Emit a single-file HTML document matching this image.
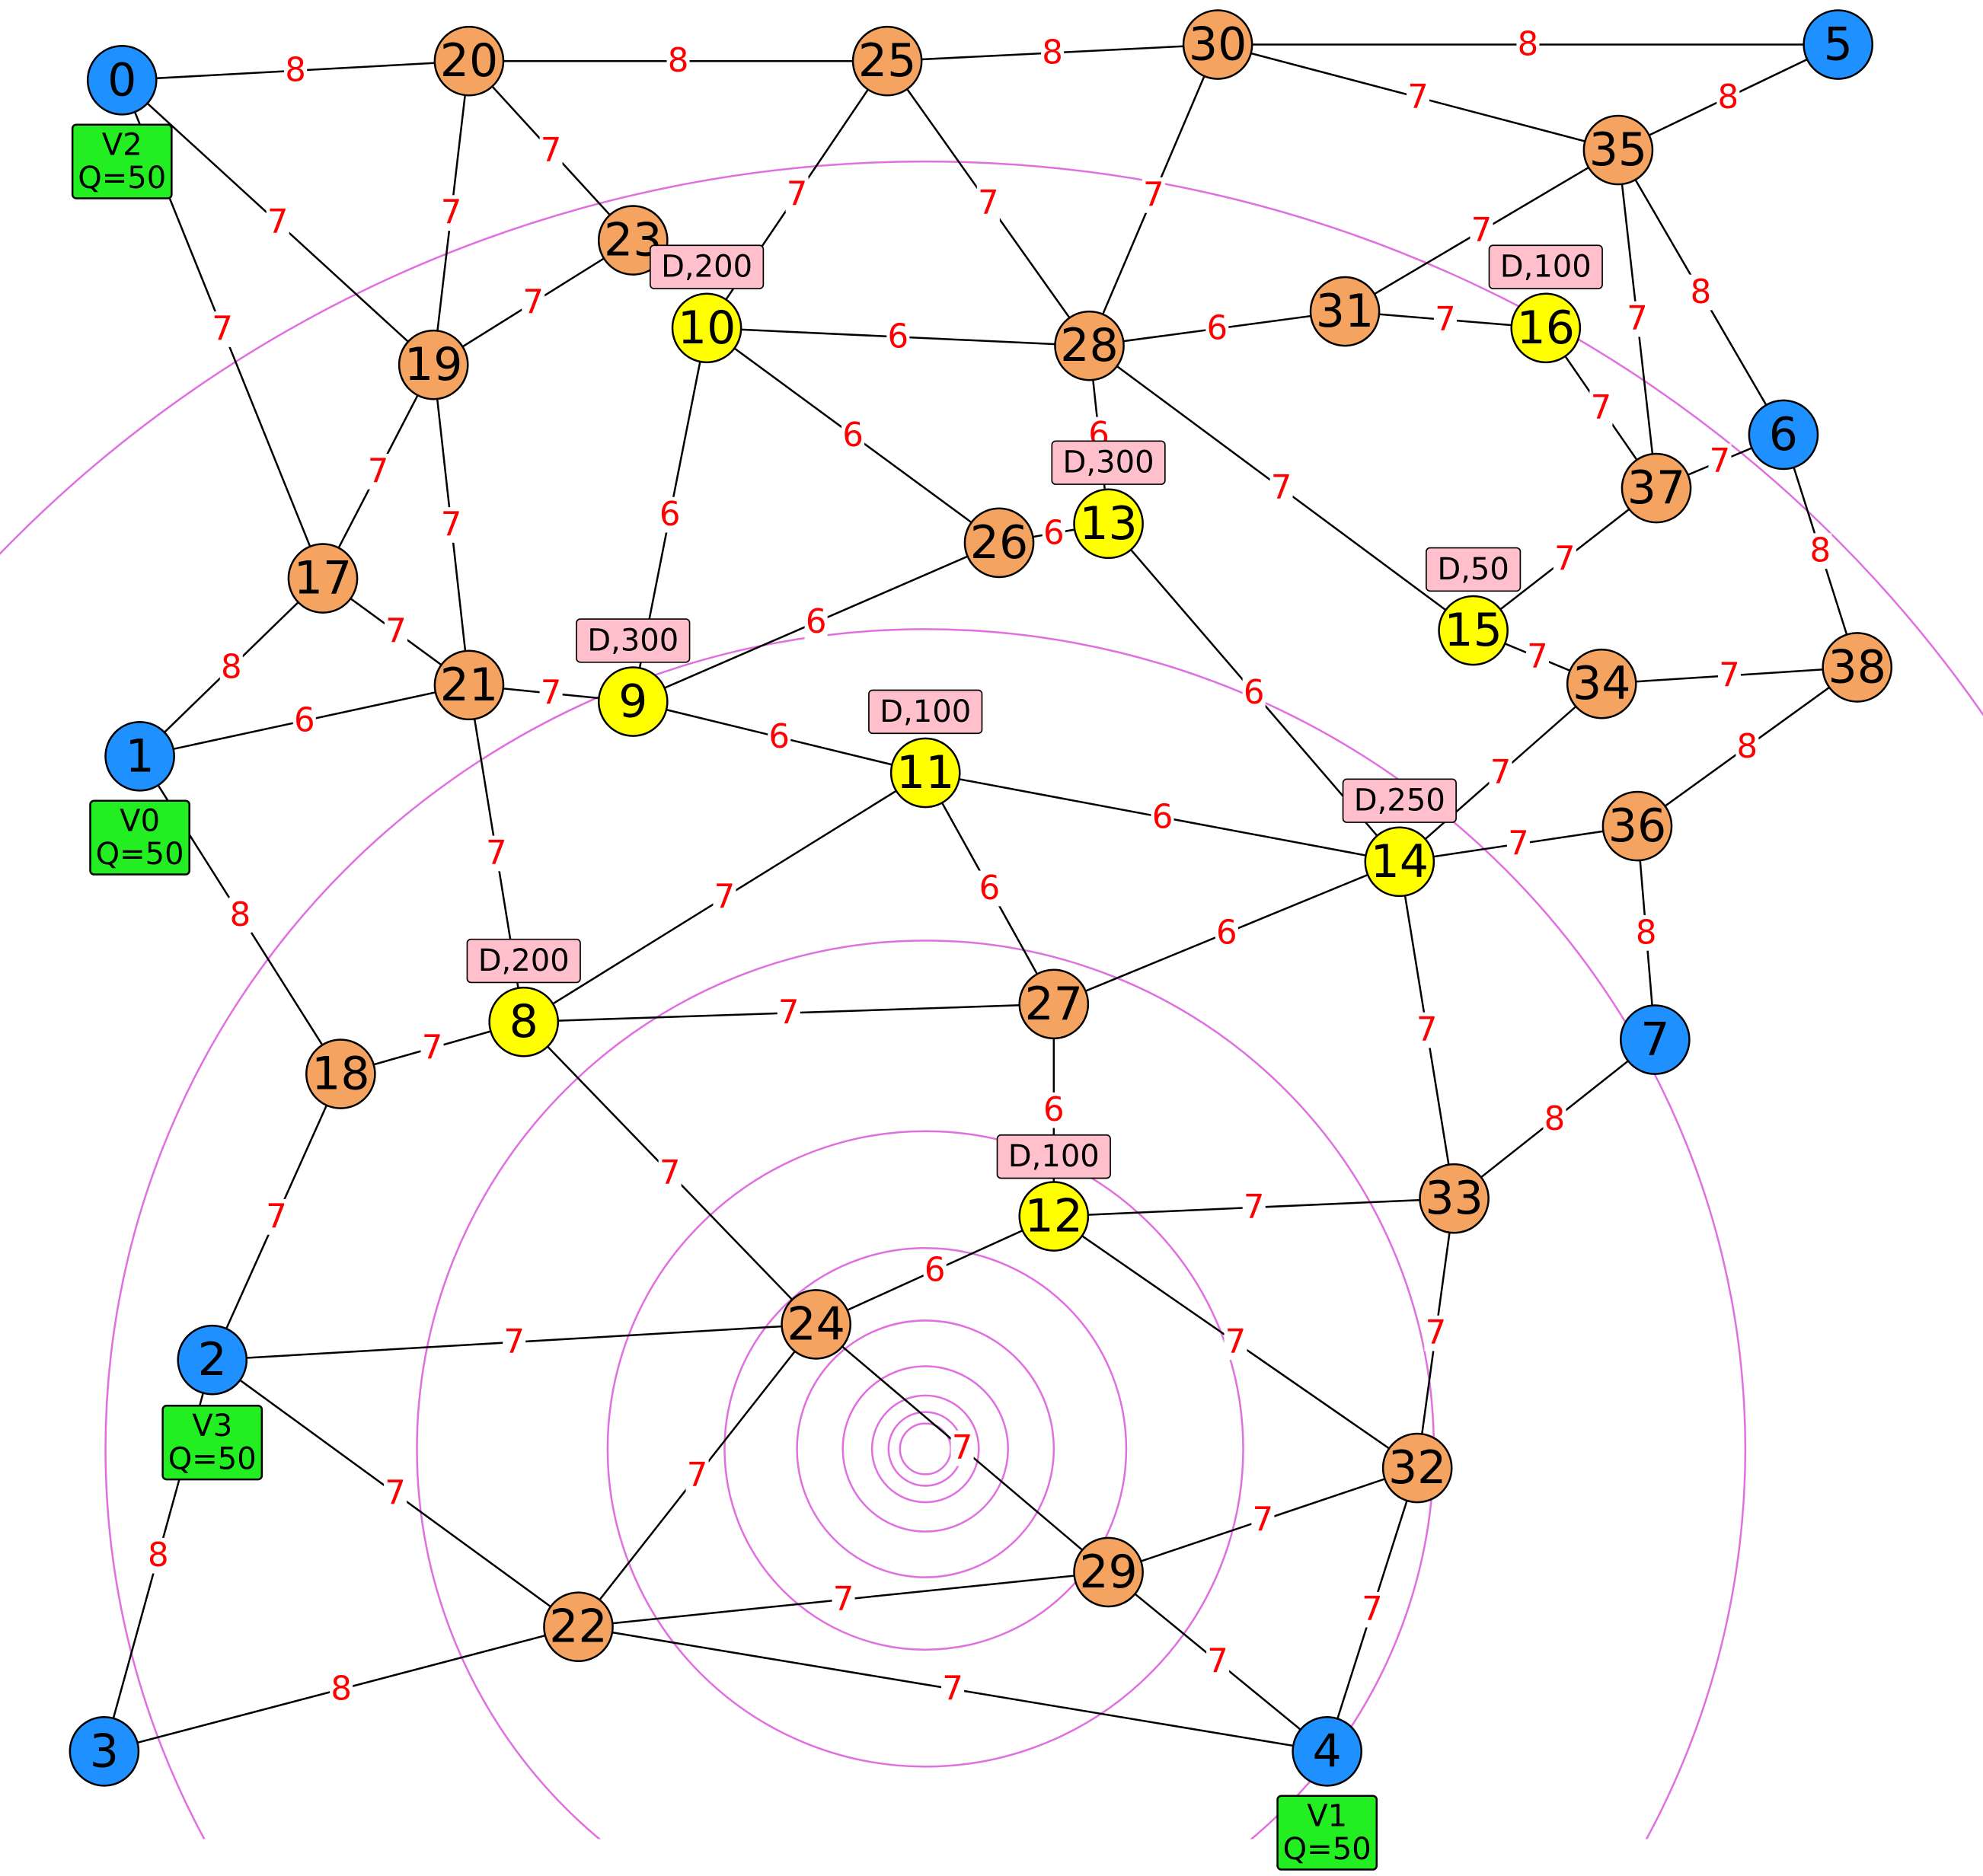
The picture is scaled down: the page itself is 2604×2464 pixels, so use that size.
<!DOCTYPE html>
<html><head><meta charset="utf-8"><style>
html,body{margin:0;padding:0;background:#fff;width:2604px;height:2464px;overflow:hidden}
svg{display:block}
.n{stroke:#000;stroke-width:1.5}
.t{font-family:"DejaVu Sans","Liberation Sans",sans-serif;font-size:36px;text-anchor:middle;dominant-baseline:central}
.w{font-family:"DejaVu Sans","Liberation Sans",sans-serif;font-size:26px;fill:#f00;text-anchor:middle;dominant-baseline:central}
.l{font-family:"DejaVu Sans","Liberation Sans",sans-serif;font-size:24px;text-anchor:middle;dominant-baseline:central}
</style></head><body>
<svg width="2604" height="2464" viewBox="0 0 1560 1476" xmlns="http://www.w3.org/2000/svg">
<defs><clipPath id="c"><rect x="0" y="0" width="1560" height="1447"/></clipPath></defs>
<g clip-path="url(#c)" fill="none" stroke="#e070e0" stroke-width="1.5">
<circle cx="728" cy="1140" r="1013"/>
<circle cx="728" cy="1140" r="645"/>
<circle cx="728" cy="1140" r="400"/>
<circle cx="728" cy="1140" r="250"/>
<circle cx="728" cy="1140" r="158"/>
<circle cx="728" cy="1140" r="101"/>
<circle cx="728" cy="1140" r="65"/>
<circle cx="728" cy="1140" r="42"/>
<circle cx="728" cy="1140" r="29"/>
<circle cx="728" cy="1140" r="20"/>
</g>
<g id="edges" stroke="#000" stroke-width="1.5"></g>
<g id="wl"></g>
<g id="nodes"></g>
<g id="labels"></g>
<script>
var N={0:[96,63,'b'],20:[369,48],25:[698,48],30:[958,35],5:[1446,35,'b'],35:[1273,118],23:[498,189],19:[341,287],10:[556,258,'y'],28:[857,272],31:[1058,245],16:[1216,258,'y'],6:[1403,342,'b'],37:[1303,384],13:[872,412,'y'],26:[786,427],17:[254,455],15:[1159,496,'y'],34:[1260,538],38:[1461,525],21:[369,539],9:[498,552,'y'],1:[110,595,'b'],11:[728,608,'y'],36:[1288,650],14:[1101,678,'y'],27:[829,790],8:[412,804,'y'],18:[268,845],7:[1302,818,'b'],12:[829,957,'y'],33:[1144,943],24:[642,1042],2:[167,1070,'b'],32:[1115,1155],29:[872,1237],22:[455,1280],3:[82,1378,'b'],4:[1044,1378,'b']};
var E="0-20-8,20-25-8,25-30-8,30-5-8,30-35-7,35-5-8,0-19-7,0-17-7,20-19-7,20-23-7,23-19-7,25-10-7,25-28-7,30-28-7,35-31-7,35-37-7,35-6-8,10-28-6,10-26-6,10-9-6,28-31-6,31-16-7,16-37-7,28-13-6,28-15-7,6-37-7,6-38-8,37-15-7,15-34-7,34-38-7,38-36-8,34-14-7,13-14-6,26-13-6,26-9-6,19-17-7,19-21-7,17-21-7,17-1-8,1-21-6,21-9-7,21-8-7,9-11-6,11-14-6,11-8-7,11-27-6,14-36-7,36-7-8,14-27-6,14-33-7,8-27-7,8-18-7,1-18-8,8-24-7,27-12-6,7-33-8,12-33-7,12-24-6,12-32-7,33-32-7,18-2-7,2-24-7,2-22-7,2-3-8,24-22-7,24-29-7,29-32-7,22-29-7,22-4-7,3-22-8,29-4-7,32-4-7".split(',');
var ns="http://www.w3.org/2000/svg";
function el(t,a,p,tx){var e=document.createElementNS(ns,t);for(var k in a)e.setAttribute(k,a[k]);if(tx!=null)e.textContent=tx;document.getElementById(p).appendChild(e);return e;}
E.forEach(function(s){var p=s.split('-'),a=N[p[0]],b=N[p[1]];
el('line',{x1:a[0],y1:a[1],x2:b[0],y2:b[1]},'edges');
var mx=(a[0]+b[0])/2,my=(a[1]+b[1])/2;
el('rect',{x:mx-9,y:my-14,width:18,height:28,fill:'#fff'},'wl');
el('text',{x:mx,y:my,'class':'w'},'wl',p[2]);});
for(var k in N){var v=N[k],c=v[2]=='b'?'#1e90ff':v[2]=='y'?'#ffff00':'#f4a460';
el('circle',{cx:v[0],cy:v[1],r:27,fill:c,'class':'n'},'nodes');
el('text',{x:v[0],y:v[1],'class':'t'},'nodes',k);}
[[556,210,'D,200'],[1216,210,'D,100'],[872,364,'D,300'],[1159,448,'D,50'],[498,504,'D,300'],[728,560,'D,100'],[1101,630,'D,250'],[412,756,'D,200'],[829,910,'D,100']].forEach(function(d){
var w=d[2].length*15+14;el('rect',{x:d[0]-w/2,y:d[1]-17,width:w,height:34,rx:3,fill:'#ffc0cb',stroke:'#000','stroke-width':1},'labels');
el('text',{x:d[0],y:d[1],'class':'l'},'labels',d[2]);});
[[96,127,'V2'],[110,659,'V0'],[167,1135,'V3'],[1044,1442,'V1']].forEach(function(d){
el('rect',{x:d[0]-39,y:d[1]-29,width:78,height:58,rx:3,fill:'#22ee22',stroke:'#000','stroke-width':1.5},'labels');
el('text',{x:d[0],y:d[1]-13,'class':'l'},'labels',d[2]);
el('text',{x:d[0],y:d[1]+13,'class':'l'},'labels','Q=50');});
</script>
</svg>
</body></html>
